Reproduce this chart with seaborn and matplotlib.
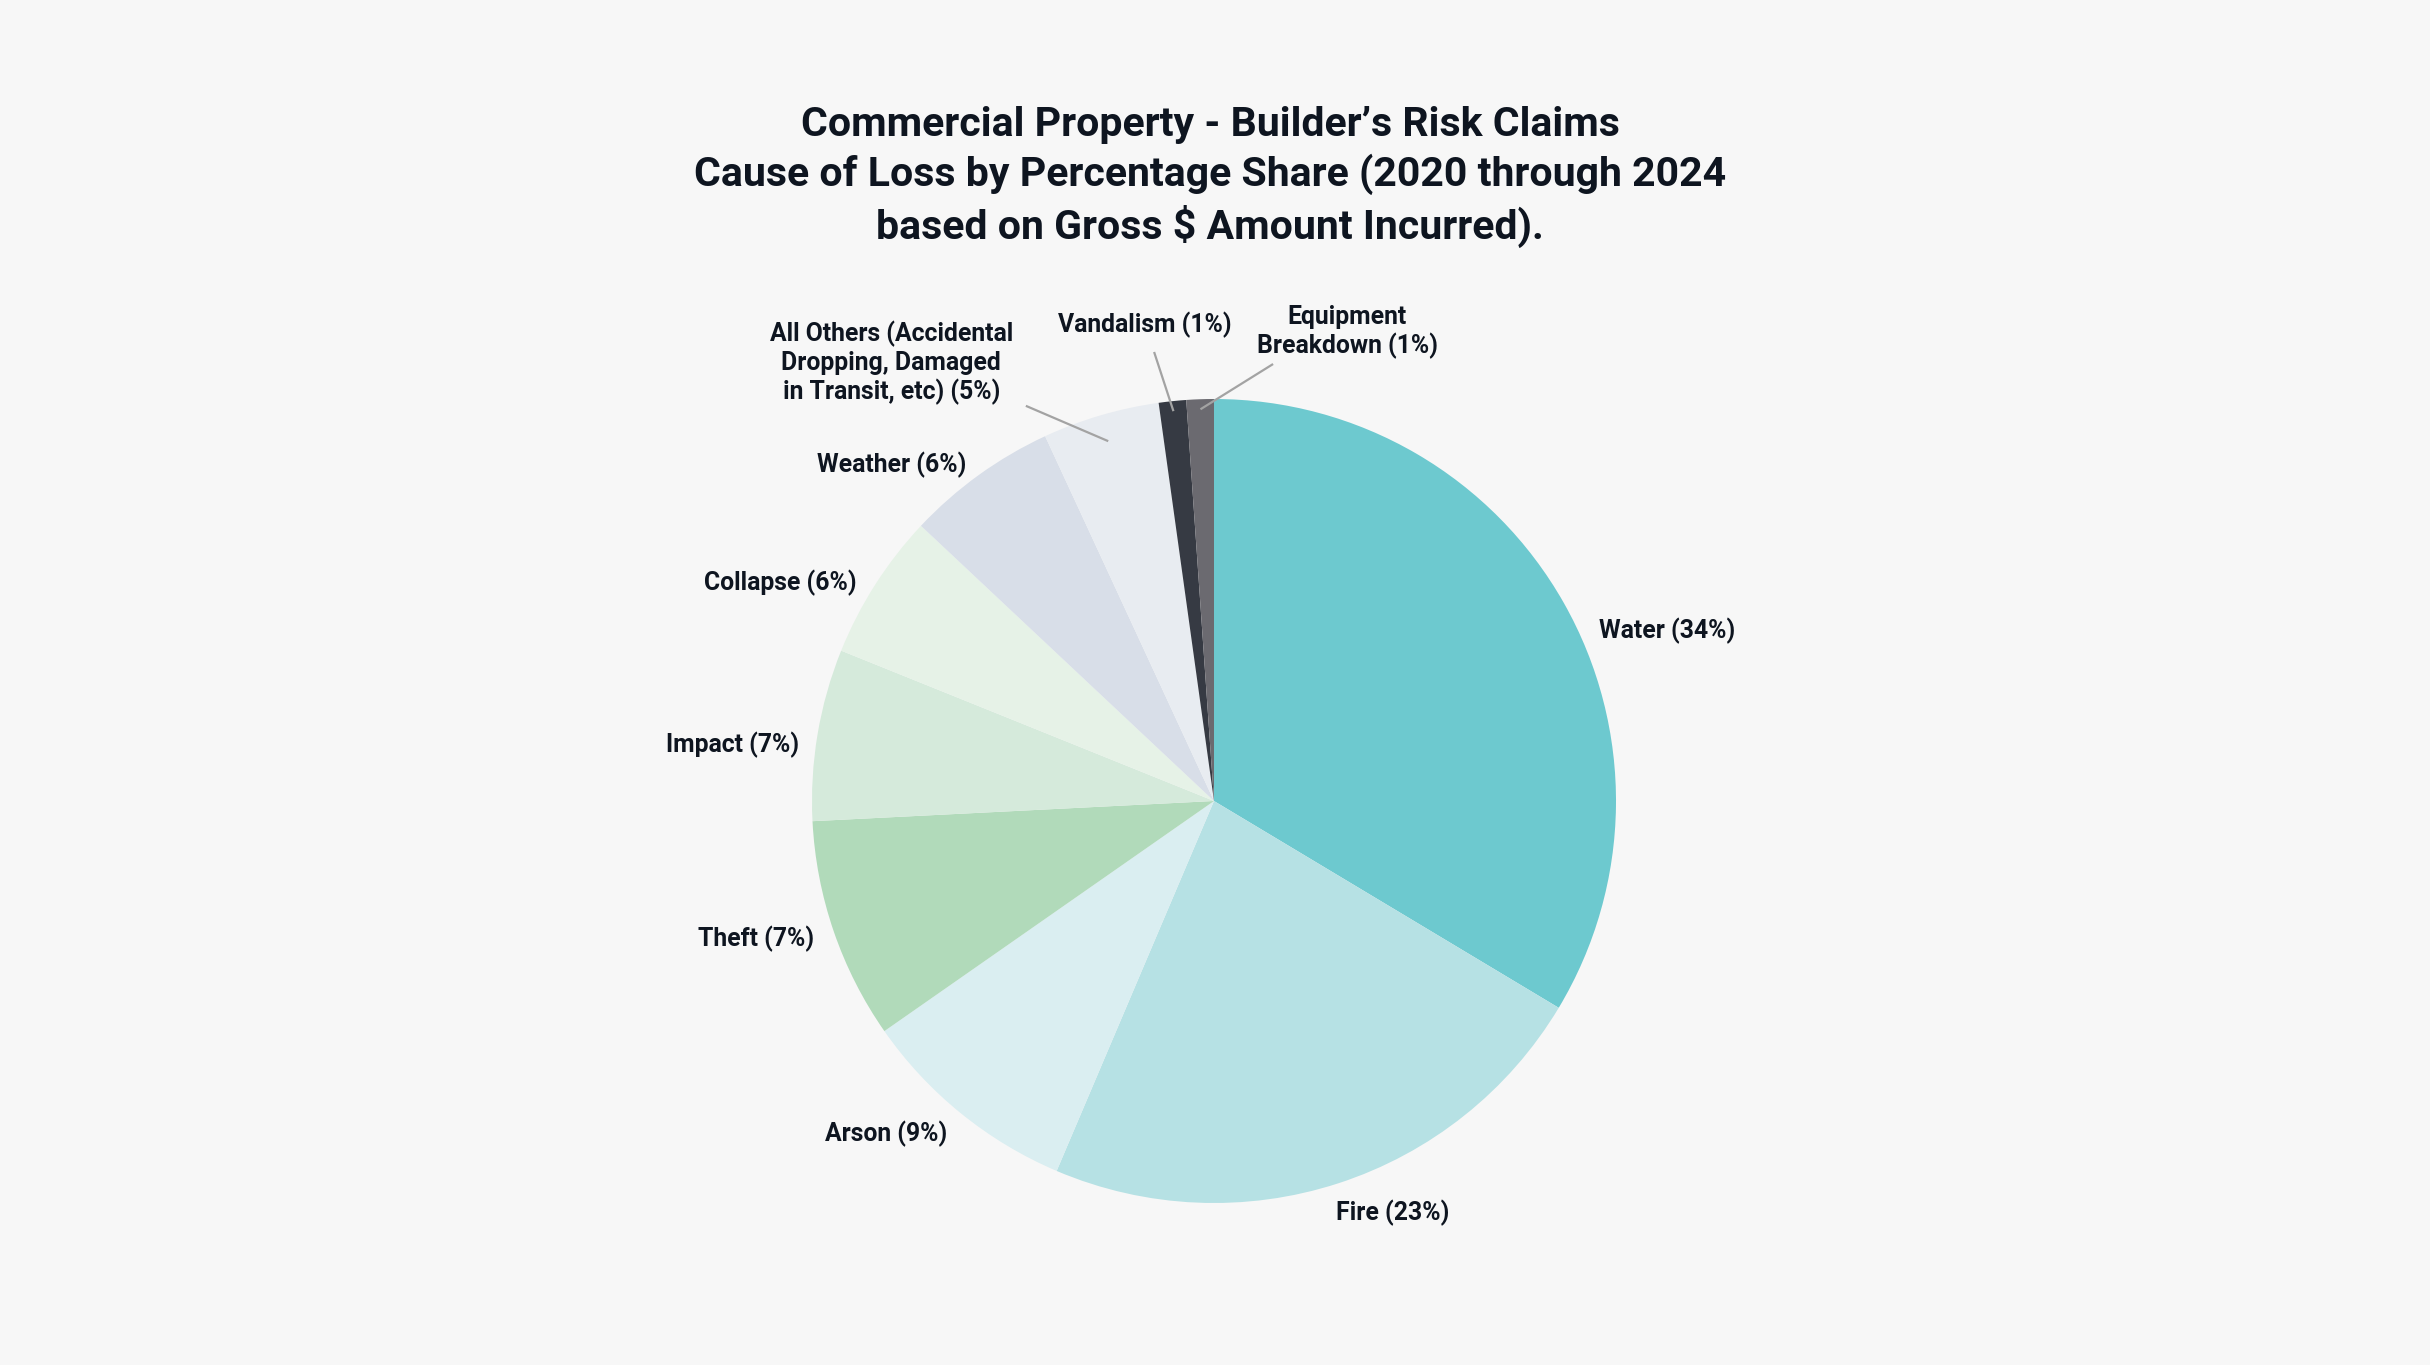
import numpy as np
import matplotlib
matplotlib.use("Agg")
import matplotlib.pyplot as plt
import seaborn as sns

categories = ["Water", "Fire", "Arson", "Theft", "Impact", "Collapse", "Weather",
              "All Others", "Vandalism", "Equipment Breakdown"]
shares = [33.6, 22.8, 8.9, 8.9, 6.9, 5.9, 6.1, 4.7, 1.1, 1.1]
labels = ["Water (34%)", "Fire (23%)", "Arson (9%)", "Theft (7%)", "Impact (7%)",
          "Collapse (6%)", "Weather (6%)",
          "All Others (Accidental\nDropping, Damaged\nin Transit, etc) (5%)",
          "Vandalism (1%)", "Equipment\nBreakdown (1%)"]
colors = ["#6DC9CF", "#B6E1E4", "#DAEEF1", "#B1DABA", "#D5EADB", "#E6F2E7",
          "#D8DEE8", "#E8ECF1", "#363A43", "#6B6A70"]

BG = "#F7F7F7"
TXT = "#0E1520"

sns.set_theme(style="white")
plt.rcParams["font.family"] = ["Roboto", "DejaVu Sans"]

W, H = 2430, 1365
fig = plt.figure(figsize=(W / 100, H / 100), dpi=100, facecolor=BG)

cx, cy, R = 1214, 801, 402
L = 1.4
side = 2 * L * R
ax = fig.add_axes([(cx - side / 2) / W, (H - cy - side / 2) / H, side / W, side / H])
ax.set_facecolor(BG)
wedges, _ = ax.pie(shares, colors=colors, startangle=90, counterclock=False,
                   radius=1.0, wedgeprops=dict(linewidth=0))
ax.set_xlim(-L, L)
ax.set_ylim(-L, L)
ax.set_aspect("equal")
ax.axis("off")

# label positions (data coords relative to pie radius)
label_pos = [(0.958, 0.423, "left"), (0.445, -1.025, "center"), (-0.816, -0.828, "center"),
             (-1.139, -0.343, "center"), (-1.197, 0.139, "center"), (-1.080, 0.542, "center"),
             (-0.803, 0.836, "center"), (-0.803, 1.090, "center"), (-0.172, 1.184, "center"),
             (0.331, 1.167, "center")]
leader_start = {7: (-0.468, 0.983), 8: (-0.149, 1.117), 9: (0.147, 1.087)}
leader_r = {7: 0.933, 8: 0.975, 9: 0.975}

for i, (w, lab) in enumerate(zip(wedges, labels)):
    x, y, ha = label_pos[i]
    ax.text(x, y, lab, ha=ha, va="center", fontsize=17.8, fontweight="semibold",
            color=TXT, linespacing=1.2, clip_on=False)
    if i in leader_start:
        mid = np.deg2rad((w.theta1 + w.theta2) / 2)
        r = leader_r[i]
        sx, sy = leader_start[i]
        ax.plot([sx, r * np.cos(mid)], [sy, r * np.sin(mid)], color="#A3A3A3",
                lw=1.6, solid_capstyle="butt", clip_on=False)

fig.text(1210 / W, 1 - 177 / H,
         "Commercial Property - Builder\u2019s Risk Claims\n"
         "Cause of Loss by Percentage Share (2020 through 2024\n"
         "based on Gross $ Amount Incurred).",
         ha="center", va="center", fontsize=29.5, fontweight="bold", color=TXT,
         linespacing=1.3)

fig.savefig("out.png", dpi=100, facecolor=BG)
